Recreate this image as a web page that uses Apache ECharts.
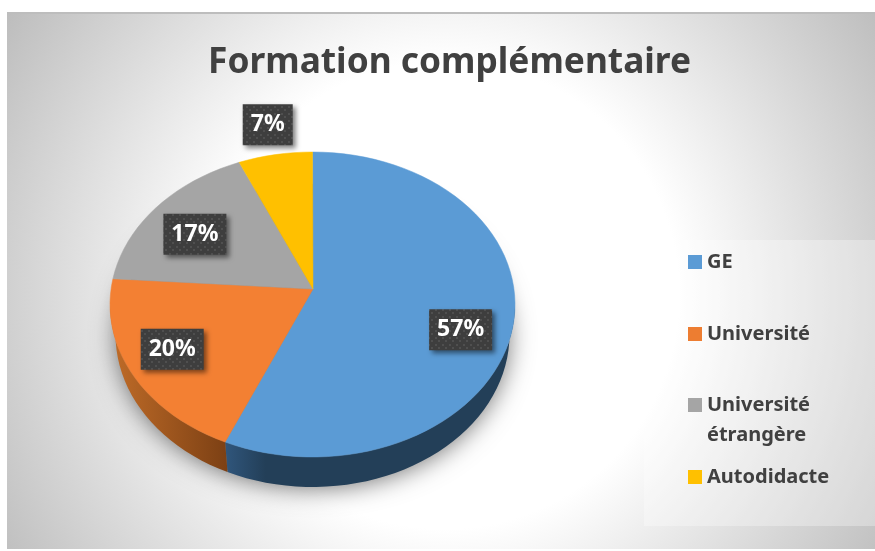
<!DOCTYPE html>
<html>
<head>
<meta charset="utf-8">
<title>Formation complémentaire</title>
<script src="https://cdn.jsdelivr.net/npm/echarts@6/dist/echarts.min.js"></script>
<style>
html, body { margin: 0; padding: 0; background: #fff; }
#chart { width: 875px; height: 551px; }
</style>
</head>
<body>
<div id="chart"></div>
<script>
// data
var categories = ['GE', 'Université', 'Université étrangère', 'Autodidacte'];
var shares = [57.1, 20.6, 16.4, 5.9];            // slice sizes measured on the ellipse
var percentLabels = ['57%', '20%', '17%', '7%']; // printed labels (they add up to 101)
var topColors = ['#5b9bd5', '#f38033', '#a5a5a5', '#ffc000'];
var legendColors = ['#5b9bd5', '#ed7d31', '#a5a5a5', '#ffc000'];

// pie layout, the top face is an ellipse with the tip above its middle
var cx = 312.5, cy = 304.5, rx = 202.5, ry = 152.5;
var tipX = 313, tipY = 289;
var depth = 30, bottomRx = 197;
var labelRadial = [0.75, 0.78, 0.75, 1.2];
var labelShiftY = [0, -10, 2, 0];
var legendTops = [247, 319, 360, 462];

function dotPattern() {
    var c = document.createElement('canvas');
    c.width = 7;
    c.height = 7;
    var ctx = c.getContext('2d');
    ctx.fillStyle = '#3e3e3e';
    ctx.fillRect(0, 0, 7, 7);
    ctx.fillStyle = '#4f4f4f';
    ctx.fillRect(1, 1, 2, 2);
    ctx.fillRect(4, 4, 2, 2);
    return c;
}
var pattern = dotPattern();

function arcPoints(from, to, a, b, y0) {
    var pts = [];
    var n = Math.max(2, Math.ceil((to - from) * 120));
    for (var i = 0; i <= n; i++) {
        var t = (from + (to - from) * i / n) * Math.PI * 2;
        pts.push([cx + a * Math.sin(t), y0 - b * Math.cos(t)]);
    }
    return pts;
}

function renderSlice(params, api) {
    var i = params.seriesIndex;
    var start = api.value(0) / 100;
    var end = start + api.value(1) / 100;
    var children = [];

    // side wall, only the front half of the rim shows
    var wallFrom = Math.max(start, 0.25);
    var wallTo = Math.min(end, 0.75);
    if (wallTo > wallFrom) {
        var wall = arcPoints(wallFrom, wallTo, rx, ry, cy)
            .concat(arcPoints(wallFrom, wallTo, bottomRx, ry, cy + depth).reverse());
        var wallFill = i === 0
            ? new echarts.graphic.LinearGradient(0, 0, 1, 0, [
                { offset: 0, color: '#30567c' },
                { offset: 0.14, color: '#233f58' },
                { offset: 1, color: '#233f58' }])
            : new echarts.graphic.LinearGradient(0, 0, 1, 0, [
                { offset: 0, color: '#c06c28' },
                { offset: 1, color: '#7c4014' }]);
        children.push({ type: 'polygon', shape: { points: wall }, style: { fill: wallFill } });
    }

    var top = [[tipX, tipY]].concat(arcPoints(start, end, rx, ry, cy));
    children.push({
        type: 'polygon',
        shape: { points: top },
        style: { fill: topColors[i], stroke: topColors[i], lineWidth: 0.5 }
    });

    // label box
    var mid = (start + end) / 2 * Math.PI * 2;
    var lx = cx + rx * labelRadial[i] * Math.sin(mid);
    var ly = cy - ry * labelRadial[i] * Math.cos(mid) + labelShiftY[i];
    var w = percentLabels[i].length === 2 ? 50 : 63;
    children.push({
        type: 'rect',
        z2: 10,
        shape: { x: lx - w / 2, y: ly - 20.5, width: w, height: 41 },
        style: {
            fill: { image: pattern, repeat: 'repeat' },
            shadowBlur: 5,
            shadowOffsetX: 3,
            shadowOffsetY: 3,
            shadowColor: 'rgba(0,0,0,0.5)'
        }
    });
    children.push({
        type: 'text',
        z2: 11,
        style: {
            text: percentLabels[i],
            x: lx,
            y: ly,
            align: 'center',
            verticalAlign: 'middle',
            fill: '#ffffff',
            font: 'bold 23px "Noto Sans"'
        }
    });
    return { type: 'group', children: children };
}

var series = [];
var legends = [];
var running = 0;
for (var i = 0; i < categories.length; i++) {
    series.push({
        type: 'custom',
        name: categories[i],
        coordinateSystem: 'none',
        renderItem: renderSlice,
        animation: false,
        silent: true,
        itemStyle: { color: legendColors[i] },
        data: [[running, shares[i]]]
    });
    running += shares[i];
    legends.push({
        orient: 'vertical',
        left: 688,
        top: legendTops[i],
        padding: 0,
        icon: 'rect',
        itemWidth: 14,
        itemHeight: 14,
        selectedMode: false,
        data: [categories[i]],
        formatter: function (name) {
            return name === 'Université étrangère' ? ' \nUniversité\nétrangère' : name;
        },
        textStyle: {
            color: '#404040',
            fontFamily: 'Noto Sans',
            fontWeight: 'bold',
            fontSize: 20,
            lineHeight: 30
        }
    });
}

var chart = echarts.init(document.getElementById('chart'), null, { renderer: 'canvas' });
chart.setOption({
    backgroundColor: '#ffffff',
    animation: false,
    title: {
        text: 'Formation complémentaire',
        left: 208,
        top: 45,
        padding: 0,
        textStyle: {
            color: '#404040',
            fontFamily: 'Noto Sans',
            fontWeight: 'bold',
            fontSize: 35.3
        }
    },
    legend: legends,
    graphic: [
        {
            type: 'rect',
            z: -10,
            silent: true,
            shape: { x: 7, y: 12, width: 868, height: 537 },
            style: {
                fill: new echarts.graphic.RadialGradient(445, 295, 520, [
                    { offset: 0, color: '#ffffff' },
                    { offset: 0.45, color: '#ffffff' },
                    { offset: 1, color: '#bdbdbd' }
                ], true)
            }
        },
        {
            type: 'line',
            z: -9,
            silent: true,
            shape: { x1: 7, y1: 13, x2: 875, y2: 13 },
            style: { stroke: '#bdbdbd', lineWidth: 2 }
        },
        {
            // lighter legend panel
            type: 'rect',
            z: -8,
            silent: true,
            shape: { x: 644, y: 240, width: 231, height: 286 },
            style: { fill: 'rgba(255,255,255,0.3)' }
        },
        {
            // soft shadow under the pie
            type: 'ellipse',
            z: -7,
            silent: true,
            shape: { cx: cx, cy: cy + depth, rx: bottomRx - 2, ry: ry - 2 },
            style: {
                fill: '#777777',
                shadowBlur: 26,
                shadowOffsetY: 2,
                shadowColor: 'rgba(0,0,0,0.6)'
            }
        }
    ],
    series: series
});
</script>
</body>
</html>
